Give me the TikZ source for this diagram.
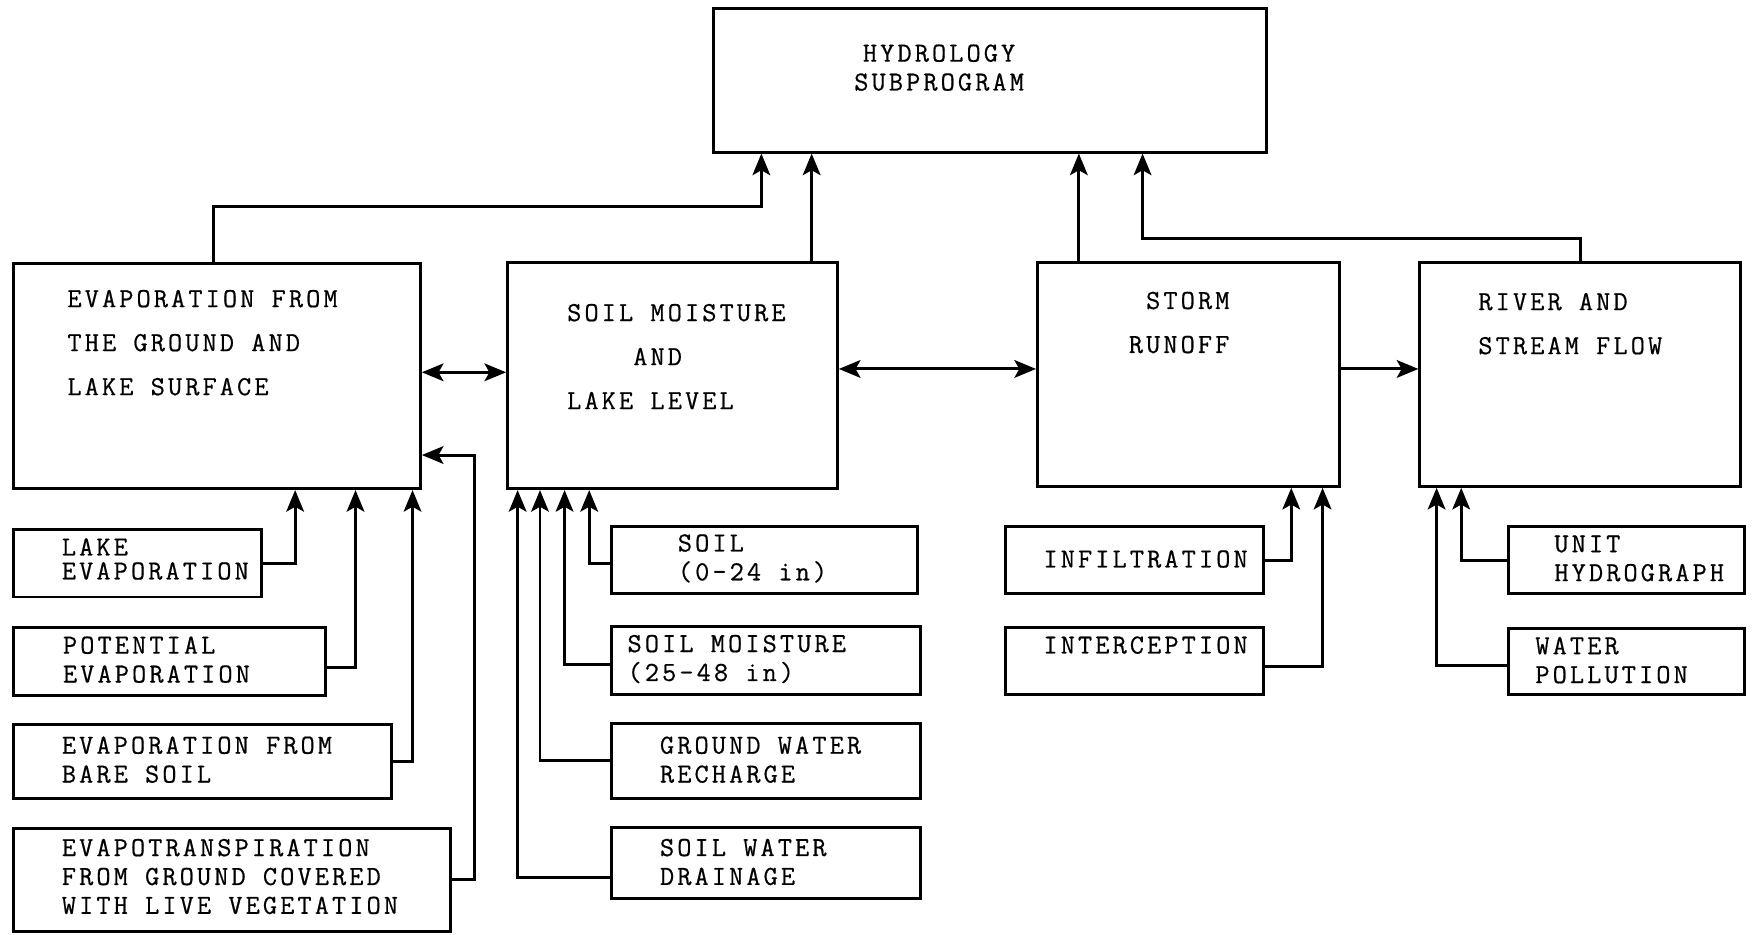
\documentclass[tikz,border=0pt]{standalone}
\usepackage{fontspec}
\newfontfamily\typefont{Latin Modern Mono}[LetterSpace=11.3,FakeBold=0.6]
\usetikzlibrary{positioning,arrows.meta,fit}
\tikzset{
  box/.style={draw,line width=1.5pt,inner sep=0pt},
  txt/.style={font=\typefont\fontsize{14}{14.7}\selectfont,
              inner sep=0pt,align=left,anchor=west},
  bigtxt/.style={txt,font=\typefont\fontsize{14}{22.4}\selectfont},
  feed/.style={-{Stealth[length=11pt,width=9pt,inset=2.5pt]},line width=1.5pt},
  link/.style={{Stealth[length=11pt,width=9pt,inset=2.5pt]}-{Stealth[length=11pt,width=9pt,inset=2.5pt]},
               line width=1.5pt},
}

\begin{document}
\begin{tikzpicture}[x=0.2mm,y=-0.2mm]
  \useasboundingbox (0,0) rectangle (1568,836);

  % main boxes
  \node[box,fit={(638,8) (1133,136)}] (hydro) {};
  \node[box,fit={(12,236) (376,437)}] (evap) {};
  \node[box,fit={(454,235) (749,437)}] (soil) {};
  \node[box,fit={(928,235) (1198,435)}] (storm) {};
  \node[box,fit={(1270,235) (1557,435)}] (river) {};

  \node[txt,anchor=center,align=center] (hydro-t) at (840,60.5)
       {HYDROLOGY\\SUBPROGRAM};
  \node[bigtxt] (evap-t) at (60,306.5)
       {EVAPORATION FROM\\THE GROUND AND\\LAKE SURFACE};
  \node[bigtxt] (soil-t) at (507,319)
       {SOIL MOISTURE\\\phantom{SOIL}AND\\LAKE LEVEL};
  \node[bigtxt,anchor=east,align=right] (storm-t) at (1100,288.5)
       {STORM\\RUNOFF};
  \node[bigtxt] (river-t) at (1322,289.5) {RIVER AND\\STREAM FLOW};

  % evaporation inputs
  \node[box,fit={(12,474) (234,534)}] (lakeev) {};
  \node[box,fit={(12,561) (291,622)}] (potev) {};
  \node[box,fit={(12,648) (350,714)}] (bareev) {};
  \node[box,fit={(12,741) (403,833)}] (vegev) {};
  \node[txt] (lakeev-t) at (55,500) {LAKE\\[-2.5pt]EVAPORATION};
  \node[txt] (potev-t) at (56,590) {POTENTIAL\\EVAPORATION};
  \node[txt] (bareev-t) at (55,679.5) {EVAPORATION FROM\\BARE SOIL};
  \node[txt] (vegev-t) at (55,784)
       {EVAPOTRANSPIRATION\\FROM GROUND COVERED\\WITH LIVE VEGETATION};

  % soil inputs
  \node[box,fit={(547,471) (821,531)}] (soila) {};
  \node[box,fit={(547,560) (823,621)}] (soilb) {};
  \node[box,fit={(547,647) (823,714)}] (gwr) {};
  \node[box,fit={(547,740) (823,804)}] (swd) {};
  \node[txt] (soila-t) at (606,499.5) {SOIL\\(0-24 in)};
  \node[txt] (soilb-t) at (561,589.5) {SOIL MOISTURE\\(25-48 in)};
  \node[txt] (gwr-t) at (590,679.5) {GROUND WATER\\RECHARGE};
  \node[txt] (swd-t) at (590,771) {SOIL WATER\\DRAINAGE};

  % storm inputs
  \node[box,fit={(899,471) (1130,531)}] (infil) {};
  \node[box,fit={(899,561) (1130,621)}] (interc) {};
  \node[txt] (infil-t) at (933,500) {INFILTRATION};
  \node[txt] (interc-t) at (933,577) {INTERCEPTION};

  % river inputs
  \node[box,fit={(1349,471) (1560,531)}] (unit) {};
  \node[box,fit={(1349,562) (1560,621)}] (water) {};
  \node[txt] (unit-t) at (1390,499.5) {UNIT\\HYDROGRAPH};
  \node[txt] (water-t) at (1373,590.5) {WATER\\POLLUTION};

  % up to the subprogram
  \draw[feed] (191,0 |- evap.north) |- (681,185) -- (681,0 |- hydro.south);
  \draw[feed] (726,0 |- soil.north) -- (726,0 |- hydro.south);
  \draw[feed] (965,0 |- storm.north) -- (965,0 |- hydro.south);
  \draw[feed] (1414,0 |- river.north) |- (1022,213) -- (1022,0 |- hydro.south);

  % between the main boxes
  \draw[link] (evap.east |- 0,333) -- (soil.west |- 0,333);
  \draw[link] (soil.east |- 0,330) -- (storm.west |- 0,330);
  \draw[feed] (storm.east |- 0,330) -- (river.west |- 0,330);

  \draw[feed] (lakeev.east) -| (264,0 |- evap.south);
  \draw[feed] (potev.east |- 0,597) -| (318,0 |- evap.south);
  \draw[feed] (bareev.east) -| (369,0 |- evap.south);
  \draw[feed] (vegev.east) -| (424,407) -- (evap.east |- 0,407);

  \draw[feed] (soila.west |- 0,504) -| (527,0 |- soil.south);
  \draw[feed] (soilb.west |- 0,594) -| (505,0 |- soil.south);
  \draw[feed] (gwr.west) -| (483,0 |- soil.south);
  \draw[feed] (swd.west |- 0,785) -| (463,0 |- soil.south);

  \draw[feed] (infil.east) -| (1155,0 |- storm.south);
  \draw[feed] (interc.east |- 0,596) -| (1183,0 |- storm.south);

  \draw[feed] (unit.west) -| (1307,0 |- river.south);
  \draw[feed] (water.west |- 0,595) -| (1285,0 |- river.south);
\end{tikzpicture}
\end{document}
